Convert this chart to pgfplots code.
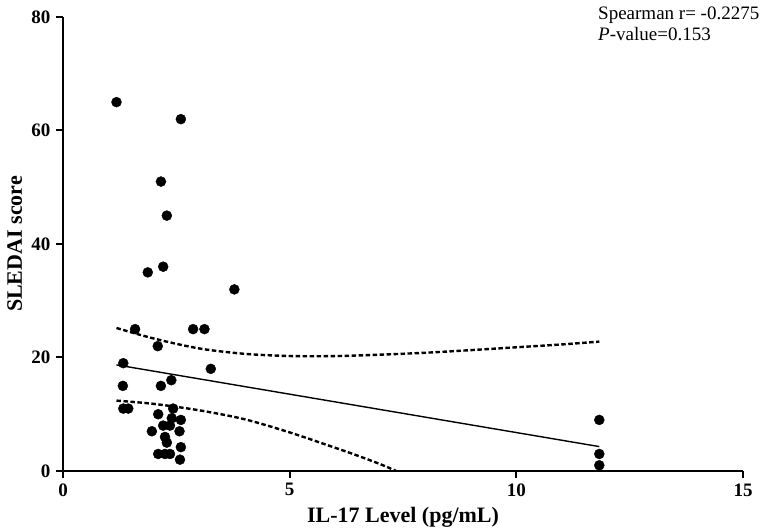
\documentclass[border=0pt]{standalone}
\usepackage{pgfplots}
\pgfplotsset{compat=1.18}
\usepackage{fontspec}
\setmainfont{Liberation Serif}
\begin{document}
\begin{tikzpicture}[x=1pt,y=1pt]
\useasboundingbox (0,0) rectangle (771,532);
\begin{axis}[
  at={(63pt,61pt)}, anchor=south west,
  scale only axis, width=680pt, height=454pt,
  xmin=0, xmax=15, ymin=0, ymax=80,
  axis lines=left, axis line style={line width=2.6pt, -},
  xtick={0,5,10,15}, ytick={0,20,40,60,80},
  tick align=outside, major tick length=7pt,
  tick style={line width=2pt, black},
  /pgf/number format/assume math mode=true,
  ticklabel style={font=\fontsize{19}{21}\selectfont\bfseries},
  yticklabel style={xshift=-2pt},
  xticklabel style={yshift=-2pt},
  xlabel={IL-17 Level (pg/mL)},
  ylabel={SLEDAI score},
  label style={font=\fontsize{22}{24}\selectfont\bfseries},
  xlabel style={at={(axis description cs:0.5,-0.1145)}, anchor=base},
  ylabel style={at={(axis description cs:-0.0603,0.5)}, anchor=base},
  clip=true,
]
\addplot[only marks, mark=*, mark size=5pt, black] coordinates {
(1.18,65) (2.60,62) (2.16,51) (2.29,45) (1.87,35) (2.21,36) (3.78,32)
(1.59,25) (2.87,25) (3.12,25) (2.09,22) (1.33,19) (3.26,18) (2.39,16)
(1.32,15) (2.16,15) (1.33,11) (1.44,11) (2.43,11) (2.10,10) (2.40,9.3)
(2.60,9) (2.21,8) (2.36,8) (1.96,7) (2.57,7) (2.25,6) (2.29,5) (2.60,4.2)
(2.10,3) (2.25,3) (2.36,3) (2.58,2) (11.83,9) (11.83,3) (11.83,1)
};
\addplot[black, line width=1.4pt] coordinates {(1.18,18.7) (11.83,4.3)};
\addplot[black, line width=2.4pt, dash pattern=on 4.5pt off 2.5pt, smooth] coordinates {
(1.18,25.2) (2,23.35) (3,21.6) (4,20.65) (5,20.26) (6,20.25) (7,20.5)
(8,20.84) (9,21.3) (10,21.8) (11,22.3) (11.83,22.8)
};
\addplot[black, line width=2.4pt, dash pattern=on 4.5pt off 2.5pt, smooth] coordinates {
(1.18,12.4) (2,11.83) (3,10.7) (4,9.13) (5,6.8) (6,4.1) (6.5,2.7) (7,1.2) (7.35,0)
};
\end{axis}
\node[anchor=base west, font=\fontsize{19}{21}\selectfont, inner sep=0pt] at (598,512) {Spearman r= -0.2275};
\node[anchor=base west, font=\fontsize{19}{21}\selectfont, inner sep=0pt] at (598,491) {\textit{P}-value=0.153};
\end{tikzpicture}
\end{document}
